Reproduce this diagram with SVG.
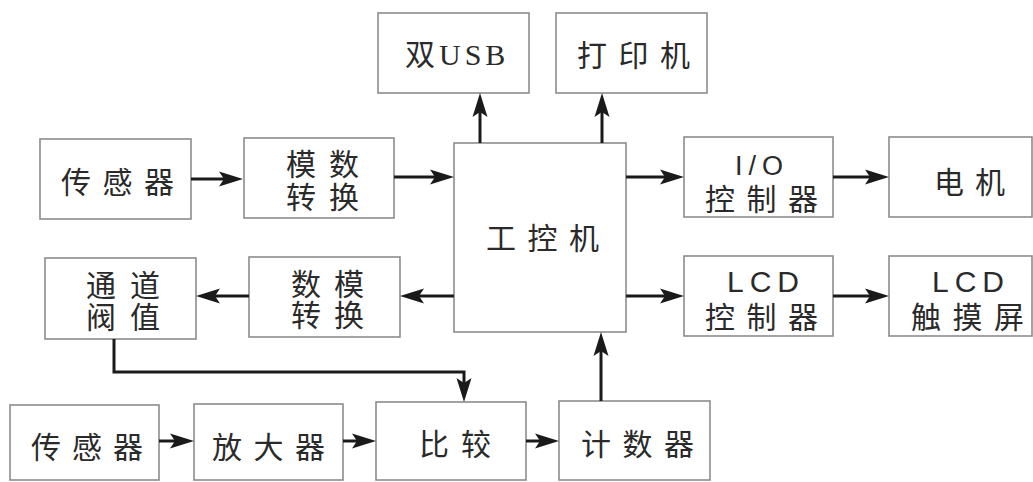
<svg xmlns="http://www.w3.org/2000/svg" width="1033" height="482" viewBox="0 0 1033 482">
<defs>
<marker id="ah" markerUnits="userSpaceOnUse" markerWidth="26" markerHeight="18" viewBox="0 0 26 18" refX="14" refY="9" orient="auto">
<path d="M1,1.5 L25,9 L1,16.5 L6,9 Z" fill="#1a1a1a"/>
</marker>
<style>
.box{fill:#fff;stroke:#8c8c8c;stroke-width:1.6}
.cn{fill:none;stroke:#1a1a1a;stroke-width:3;marker-end:url(#ah)}
.cj{font-family:"Noto Sans CJK SC","Noto Sans CJK JP",sans-serif;font-size:30px;fill:#2a2a2a}
.la{font-family:"Liberation Sans",Arial,sans-serif;letter-spacing:6px}
.usb{font-family:"Liberation Serif","Noto Sans CJK SC",serif;font-size:30px;letter-spacing:4px;fill:#2a2a2a}
</style>
</defs>
<rect width="1033" height="482" fill="#fff"/>
<g id="usb"><rect class="box" x="378" y="13" width="151" height="80"/><text class="usb" x="405" y="65">双USB</text></g>
<g id="printer"><rect class="box" x="556" y="13" width="151" height="80"/><text class="cj" x="577 618.5 660" y="66">打印机</text></g>
<g id="sensor1"><rect class="box" x="40" y="139" width="151" height="80"/><text class="cj" x="61 102.5 144" y="193">传感器</text></g>
<g id="adc"><rect class="box" x="244" y="138" width="150" height="80"/><text class="cj"><tspan x="286 329" y="175">模数</tspan><tspan x="286 329" y="208">转换</tspan></text></g>
<g id="ipc"><rect class="box" x="454" y="143" width="172" height="189"/><text class="cj" x="486 527.5 569" y="249">工控机</text></g>
<g id="io"><rect class="box" x="684" y="137" width="149" height="80"/><text class="cj"><tspan class="la" x="735" y="175" style="font-size:27px">I/O</tspan><tspan x="705 746.5 788" y="210">控制器</tspan></text></g>
<g id="motor"><rect class="box" x="889" y="137" width="143" height="80"/><text class="cj" x="934 975" y="193">电机</text></g>
<g id="threshold"><rect class="box" x="45" y="258" width="151" height="81"/><text class="cj"><tspan x="86 130" y="296">通道</tspan><tspan x="86 130" y="328">阀值</tspan></text></g>
<g id="dac"><rect class="box" x="249" y="257" width="151" height="80"/><text class="cj"><tspan x="291 334" y="295">数模</tspan><tspan x="291 334" y="326">转换</tspan></text></g>
<g id="lcdctl"><rect class="box" x="684" y="256" width="149" height="80"/><text class="cj"><tspan class="la" x="727" y="292">LCD</tspan><tspan x="705 746.5 788" y="328">控制器</tspan></text></g>
<g id="lcd"><rect class="box" x="889" y="256" width="143" height="80"/><text class="cj"><tspan class="la" x="932" y="292">LCD</tspan><tspan x="911 952.5 994" y="328">触摸屏</tspan></text></g>
<g id="sensor2"><rect class="box" x="10" y="405" width="149" height="75"/><text class="cj" x="31 72 113" y="458">传感器</text></g>
<g id="amp"><rect class="box" x="194" y="404" width="149" height="76"/><text class="cj" x="212 253.5 295" y="458">放大器</text></g>
<g id="cmp"><rect class="box" x="376" y="402" width="150" height="78"/><text class="cj" x="419 461" y="455">比较</text></g>
<g id="counter"><rect class="box" x="559" y="401" width="151" height="79"/><text class="cj" x="581 622.5 664" y="455">计数器</text></g>
<g id="connectors">
<path class="cn" d="M480,143 V104"/>
<path class="cn" d="M602,143 V104"/>
<path class="cn" d="M191,179 H232"/>
<path class="cn" d="M394,177 H443"/>
<path class="cn" d="M626,177 H673"/>
<path class="cn" d="M833,177 H878"/>
<path class="cn" d="M454,296 H411"/>
<path class="cn" d="M249,296 H207"/>
<path class="cn" d="M626,296 H673"/>
<path class="cn" d="M833,296 H878"/>
<path class="cn" d="M114,339 V372 H464 V391"/>
<path class="cn" d="M601,401 V343"/>
<path class="cn" d="M159,441 H183"/>
<path class="cn" d="M343,441 H365"/>
<path class="cn" d="M526,441 H548"/>
</g>
</svg>
